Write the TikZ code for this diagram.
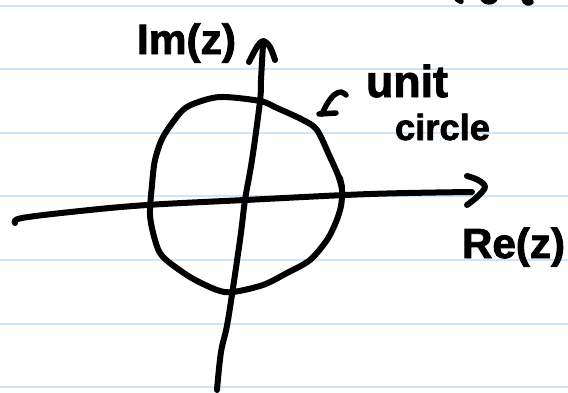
\documentclass[tikz,border=0pt]{standalone}
\usepackage{fontspec}
\usepackage{graphicx}
\setmainfont{Liberation Sans}
\newfontfamily\handfont{Liberation Sans}[UprightFont={* Bold}, FakeBold=2]
\definecolor{ruleblue}{RGB}{205,230,250}
\tikzset{
  ink/.style={line width=6pt, line cap=round, line join=round, black},
  thinink/.style={line width=5.5pt, line cap=round, line join=round, black},
  ruled/.style={line width=2pt, ruleblue},
  lbl/.style={inner sep=0pt, outer sep=0pt, font=\handfont}
}
\begin{document}
\begin{tikzpicture}[x=1pt,y=-1pt]
  \useasboundingbox (0,0) rectangle (568,392);
  \fill[white] (0,0) rectangle (568,392);
  % ruled paper lines
  \foreach \k in {0,...,6}{
    \draw[ruled] (0,{5.5+63.6*\k}) -- (568,{5.5+63.6*\k});
  }
  % unit circle (hand drawn)
  \draw[ink] plot[smooth cycle, tension=0.5] coordinates {
    (260,101) (277,108) (303,120) (317,130) (330,157) (338,175)
    (342,190) (341,206) (336,222) (327,240) (310,260) (287,273) (263,285)
    (233,292) (217,290) (190,277) (163,257) (155,240) (150,215)
    (152,185) (155,160) (163,137) (180,113) (193,104) (220,97)};
  \draw[ink] (340,178) -- (342,187);
  % real axis
  \draw[ink] plot[smooth, tension=0.6] coordinates {
    (15,223) (22,218) (80,211) (147,205) (245,200) (370,194) (472,192)};
  \draw[ink] plot[smooth, tension=0.6] coordinates {
    (467,176) (478,180) (485,187) (477,197) (467,205)};
  % imaginary axis
  \draw[ink] plot[smooth, tension=0.6] coordinates {
    (217,390) (221,352) (228,320) (240,240) (245,200) (252,160) (260,101) (261,80) (263,44)};
  \draw[ink] plot[smooth, tension=0.6] coordinates {
    (249,62) (257,47) (263,41) (270,47) (275,60)};
  % pointer to the circle
  \draw[thinink] plot[smooth, tension=0.6] coordinates {
    (346,95) (341,92) (334,95) (327,104) (322,114)};
  \draw[thinink] (319,114) -- (336,113);
  % ink fragments at the top edge
  \draw[thinink] (457,-1) -- (461,1.5);
  \draw[thinink] (483,-1) .. controls (486,3) and (492,3) .. (495,-1);
  \draw[thinink] (524,-1) .. controls (525,3) and (529,4) .. (531,2);
  % labels
  \node[lbl, anchor=base west] (im) at (137,54) {\resizebox{99pt}{!}{Im(z)}};
  \node[lbl, anchor=base west] (unit) at (366,97) {\resizebox{82pt}{!}{unit}};
  \node[lbl, anchor=base west] (circ) at (395,140) {\resizebox{95pt}{!}{circle}};
  \node[lbl, anchor=base west] (re) at (462,258) {\resizebox{103pt}{!}{Re(z)}};
\end{tikzpicture}
\end{document}
